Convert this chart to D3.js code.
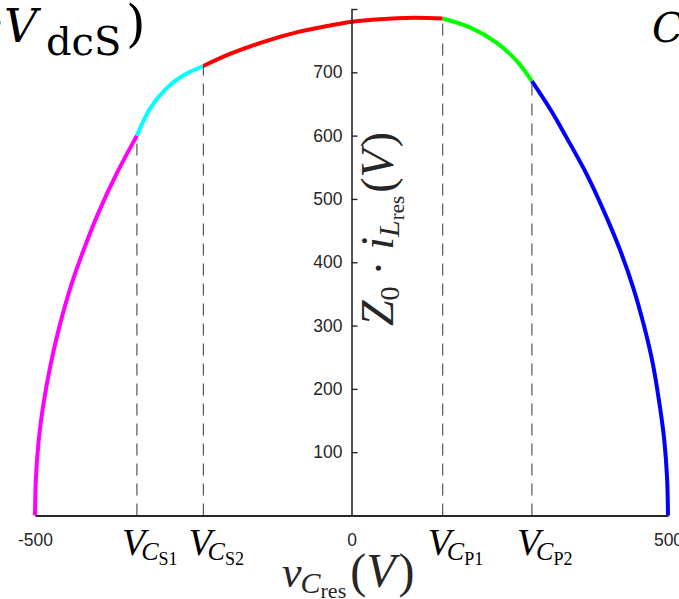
<!DOCTYPE html>
<html><head><meta charset="utf-8">
<script src="https://cdn.jsdelivr.net/npm/d3@7"></script>
<style>body{margin:0;background:#fff} svg{display:block}</style>
</head><body>
<svg id="c" width="679" height="599"></svg>
<script>
// ---- data (x = v_Cres in V, y = Z0*i_Lres in V) ----
const magentaSeg = [[-500,0],[-498.5,60],[-494,120],[-486,180],[-475,240],[-461,300],[-444,360],[-423,420],[-399,480],[-371,540],[-339,600]];
const cyanSeg    = [[-339,600],[-318,643],[-292,675],[-266,695],[-234,710]];
const redSeg     = [[-234,710],[-192,729],[-139,748],[-87,763],[-34,774],[1,780],[45,784],[98,786],[144,785]];
const greenSeg   = [[144,785],[187,771],[229,747],[261,718],[285,686]];
const blueSeg    = [[285,686],[315,640],[338,600],[371,540],[399,480],[424,420],[445,360],[462,300],[476,240],[486,180],[494,120],[498.5,60],[500,0]];
const segColors  = ["#ff00ff","#00ffff","#ff0000","#00ff00","#0000ff"];

const markerX    = [-339,-234,144,285];
const markerTop  = [600,710,785,686];
const markerSub  = ["S1","S2","P1","P2"];

const xTickValues = [-500,0,500];
const xTickLabels = ["-500","0","500"];
const yTickValues = [0,100,200,300,400,500,600,700,800];
const yLabelValues = [100,200,300,400,500,600,700];

// ---- scales ----
const svg = d3.select("#c");
const x = d3.scaleLinear().domain([-500,500]).range([35,668]);
const y = d3.scaleLinear().domain([0,800]).range([515.5,9]);

const line = d3.line().x(d=>x(d[0])).y(d=>y(d[1])).curve(d3.curveCatmullRom.alpha(0.5));

// curves
[magentaSeg,cyanSeg,redSeg,greenSeg,blueSeg].forEach((seg,i)=>{
  svg.append("path").attr("d",line(seg)).attr("fill","none")
    .attr("stroke",segColors[i]).attr("stroke-width",4).attr("stroke-linecap","butt");
});

// dashed marker lines (drawn bottom -> top)
markerX.forEach((mx,i)=>{
  svg.append("path")
    .attr("d",`M${x(mx)},${y(0)}V${y(markerTop[i])}`)
    .attr("stroke","#555").attr("stroke-width",1.2).attr("fill","none")
    .attr("stroke-dasharray","12,8");
});

// y axis: ticks to the right, labels to the left
const yAxisG = svg.append("g").attr("transform",`translate(${x(0)},0)`)
  .call(d3.axisRight(y).tickValues(yTickValues).tickSize(6).tickSizeOuter(0).tickFormat(""));
yAxisG.select(".domain").attr("stroke","#262626").attr("stroke-width",1.6);
yAxisG.selectAll(".tick line").attr("stroke","#262626").attr("stroke-width",1.4);

const yLab = svg.append("g").attr("transform",`translate(${x(0)},0)`)
  .call(d3.axisLeft(y).tickValues(yLabelValues).tickSize(0).tickPadding(9).tickFormat(d3.format("d")));
yLab.select(".domain").remove();
yLab.selectAll("text").attr("font-family","'Liberation Sans',Arial,sans-serif")
  .attr("font-size",17.5).attr("fill","#262626");

// x axis
const xAxisG = svg.append("g").attr("transform",`translate(0,${y(0)})`)
  .call(d3.axisBottom(x).tickValues(xTickValues).tickSize(0).tickPadding(18)
    .tickFormat((d,i)=>xTickLabels[i]));
xAxisG.select(".domain").attr("stroke","#262626").attr("stroke-width",2);
xAxisG.selectAll("text").attr("font-family","'Liberation Sans',Arial,sans-serif")
  .attr("font-size",17.5).attr("fill","#262626");

// marker labels V_{C_{..}}
const serif = "'Liberation Serif','Times New Roman',serif";
markerX.forEach((mx,i)=>{
  const t = svg.append("text").attr("x",x(mx)-15).attr("y",555)
    .attr("font-family",serif).attr("fill","#000");
  t.append("tspan").attr("font-style","italic").attr("font-size",38).text("V");
  t.append("tspan").attr("font-style","italic").attr("font-size",26).attr("dx",-4).attr("dy",5).text("C");
  t.append("tspan").attr("font-size",18).attr("dy",5).text(markerSub[i]);
});

// x-axis title v_{C_res}(V)
{
  const t = svg.append("text").attr("x",282).attr("y",587)
    .attr("font-family",serif).attr("fill","#262626");
  t.append("tspan").attr("font-style","italic").attr("font-size",44).text("v");
  t.append("tspan").attr("font-style","italic").attr("font-size",30).attr("dx",-1).attr("dy",6).text("C");
  t.append("tspan").attr("font-size",22).attr("dy",5).text("res");
  t.append("tspan").attr("font-size",48).attr("dx",4).attr("dy",-11).text("(");
  t.append("tspan").attr("font-style","italic").attr("font-size",48).text("V");
  t.append("tspan").attr("font-size",48).attr("dx",3).text(")");
}

// y-axis title Z_0 · i_{L_res}(V)
{
  const t = svg.append("text").attr("transform","translate(393,229) rotate(-90)")
    .attr("text-anchor","middle").attr("font-family",serif).attr("fill","#262626");
  t.append("tspan").attr("font-style","italic").attr("font-size",46).text("Z");
  t.append("tspan").attr("font-size",28).attr("dy",6).text("0");
  t.append("tspan").attr("font-size",44).attr("dy",-6).text(" \u00B7 ");
  t.append("tspan").attr("font-style","italic").attr("font-size",46).text("i");
  t.append("tspan").attr("font-style","italic").attr("font-size",30).attr("dy",6).text("L");
  t.append("tspan").attr("font-size",21).attr("dy",5).text("res");
  t.append("tspan").attr("font-size",46).attr("dx",3).attr("dy",-11).text("(");
  t.append("tspan").attr("font-style","italic").attr("font-size",46).text("V");
  t.append("tspan").attr("font-size",46).attr("dx",2).text(")");
}

// cropped fragments of neighbouring text
{
  const dj = "'DejaVu Serif',serif";
  svg.append("text").attr("x",5).attr("y",37).attr("text-anchor","end").attr("font-family",dj)
    .attr("font-size",46).attr("fill","#000").text("\u2212");
  svg.append("text").attr("x",4).attr("y",42).attr("font-family",dj).attr("font-style","italic")
    .attr("font-size",46).attr("fill","#000").text("V");
  svg.append("text").attr("x",46).attr("y",55).attr("font-family",dj)
    .attr("font-size",40).attr("fill","#000").text("dcS");
  svg.append("text").attr("x",126).attr("y",41).attr("font-family",dj)
    .attr("font-size",50).attr("fill","#000").text(")");
  svg.append("text").attr("x",652).attr("y",42).attr("font-family",dj)
    .attr("font-style","italic").attr("font-size",41).attr("fill","#000").text("C");
}
</script>
</body></html>
